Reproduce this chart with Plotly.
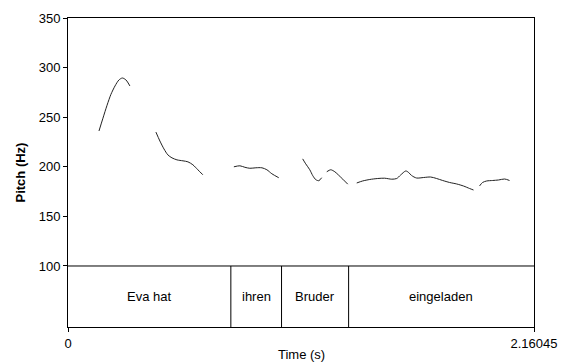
import plotly.graph_objects as go

# Pitch contour segments (time in s, pitch in Hz)
seg1_t = [0.1436, 0.162, 0.181, 0.199, 0.218, 0.236, 0.252, 0.269, 0.287]
seg1_f = [236.1, 249, 262, 273, 281.5, 287.5, 289.5, 287.5, 281.5]

seg2_t = [0.4076, 0.426, 0.445, 0.463, 0.482, 0.505, 0.533, 0.556, 0.579, 0.602, 0.625]
seg2_f = [235, 226, 218, 212, 209, 207, 206, 205, 202, 197, 192]

seg3_t = [0.769, 0.797, 0.820, 0.843, 0.871, 0.899, 0.922, 0.945, 0.977]
seg3_f = [200, 201, 199.5, 198.5, 199, 199, 197, 193, 189]

seg4_t = [1.088, 1.102, 1.121, 1.135, 1.149, 1.163, 1.176]
seg4_f = [208, 203, 197, 191, 187, 186, 189]

seg5_t = [1.1996, 1.218, 1.237, 1.255, 1.274, 1.297]
seg5_f = [195, 197, 195, 191.5, 187.5, 182.5]

seg6_t = [1.3386, 1.366, 1.399, 1.436, 1.468, 1.501, 1.524, 1.542, 1.566, 1.579,
          1.593, 1.616, 1.649, 1.681, 1.709, 1.737, 1.769, 1.802, 1.834, 1.862, 1.880]
seg6_f = [183.7, 185.7, 187.2, 188.2, 188.5, 187.5, 188.2, 191.7, 195.8, 194.3,
          191.2, 188.7, 189.2, 189.7, 188.2, 186.2, 184.2, 182.7, 180.6, 178.1, 176.6]

seg7_t = [1.908, 1.922, 1.941, 1.969, 1.996, 2.024, 2.047]
seg7_f = [180.7, 184.2, 185.7, 186.2, 186.7, 187.7, 186.2]

# Text grid
word_bounds = [0, 0.755, 0.990, 1.301, 2.16045]
word_labels = ["Eva hat", "ihren", "Bruder", "eingeladen"]

# Axes
t_max = 2.16045
x_tickvals = [0, 2.16045]
x_ticktext = ["0", "2.16045"]
y_tickvals = [100, 150, 200, 250, 300, 350]
y_top = 350
y_floor = 100
y_bottom = 38.5

FONT = "Liberation Sans, Arial, Helvetica, sans-serif"
FS = 13

fig = go.Figure()
for t, f in [(seg1_t, seg1_f), (seg2_t, seg2_f), (seg3_t, seg3_f), (seg4_t, seg4_f),
             (seg5_t, seg5_f), (seg6_t, seg6_f), (seg7_t, seg7_f)]:
    fig.add_trace(go.Scatter(x=t, y=f, mode="lines",
                             line=dict(color="#222222", width=1, shape="spline", smoothing=0.8),
                             showlegend=False, hoverinfo="skip"))

# horizontal separator at 100 Hz
fig.add_shape(type="line", x0=0, x1=t_max, y0=y_floor, y1=y_floor,
              line=dict(color="black", width=1))
# interval boundaries
for b in word_bounds[1:-1]:
    fig.add_shape(type="line", x0=b, x1=b, y0=y_bottom, y1=y_floor,
                  line=dict(color="black", width=1))
for i, lab in enumerate(word_labels):
    fig.add_annotation(x=(word_bounds[i] + word_bounds[i + 1]) / 2,
                       y=(y_floor + y_bottom) / 2, text=lab, showarrow=False,
                       font=dict(family=FONT, size=FS, color="black"))

fig.add_annotation(xref="paper", yref="paper", x=0, y=0.5, xshift=-48,
                   text="<b>Pitch (Hz)</b>", textangle=-90, showarrow=False,
                   xanchor="center", yanchor="middle",
                   font=dict(family=FONT, size=FS, color="black"))
fig.add_annotation(xref="paper", yref="paper", x=0.5, y=0, yshift=-27,
                   text="Time (s)", showarrow=False, xanchor="center", yanchor="middle",
                   font=dict(family=FONT, size=FS, color="black"))

fig.update_xaxes(range=[0, t_max], tickvals=x_tickvals, ticktext=x_ticktext,
                 ticks="outside", ticklen=4, tickcolor="black", showline=True,
                 linecolor="black", linewidth=1, mirror=True, showgrid=False,
                 zeroline=False, automargin=False,
                 tickfont=dict(family=FONT, size=FS, color="black"))
fig.update_yaxes(range=[y_bottom, y_top], tickvals=y_tickvals,
                 ticks="outside", ticklen=4, tickcolor="black", showline=True,
                 linecolor="black", linewidth=1, mirror=True, showgrid=False,
                 zeroline=False, automargin=False,
                 tickfont=dict(family=FONT, size=FS, color="black"))

fig.update_layout(width=561, height=362, margin=dict(l=68, r=26.5, t=18, b=35),
                  plot_bgcolor="white", paper_bgcolor="white",
                  font=dict(family=FONT, color="black"))

fig.write_html("out.html", config={"displayModeBar": False},
               post_script="document.body.style.margin='0';")
